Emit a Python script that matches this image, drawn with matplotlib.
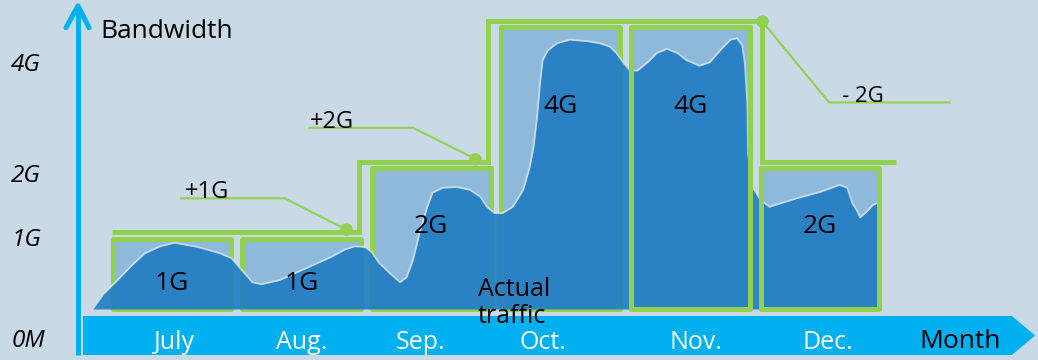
import numpy as np
import matplotlib.pyplot as plt
from matplotlib.patches import Rectangle, Polygon

plt.rcParams['font.family'] = ['Open Sans', 'DejaVu Sans']

# allocated bandwidth per month (G)
months = ['July', 'Aug.', 'Sep.', 'Oct.', 'Nov.', 'Dec.']
bandwidth = [1, 1, 2, 4, 4, 2]

# actual traffic curve: month position vs. G
traffic_x = [-0.61, -0.52, -0.42, -0.31, -0.21, -0.09, 0.02, 0.20, 0.37, 0.46,
             0.54, 0.62, 0.69, 0.83, 1.00, 1.23, 1.33, 1.41, 1.49, 1.54,
             1.60, 1.68, 1.76, 1.81, 1.86, 1.91, 1.97, 2.01, 2.09, 2.20,
             2.30, 2.38, 2.43, 2.49, 2.55, 2.63, 2.71, 2.76, 2.79, 2.82,
             2.84, 2.86, 2.90, 2.97, 3.07, 3.20, 3.30, 3.38, 3.43, 3.48,
             3.53, 3.59, 3.67, 3.74, 3.82, 3.90, 3.97, 4.07, 4.15, 4.23,
             4.31, 4.36, 4.40, 4.42, 4.44, 4.445, 4.48, 4.54, 4.61, 4.82,
             5.00, 5.15, 5.21, 5.25, 5.29, 5.31, 5.36, 5.41, 5.44, 5.46,
             5.47]
traffic_y = [0.0, 0.23, 0.41, 0.62, 0.79, 0.89, 0.94, 0.88, 0.79, 0.72,
             0.55, 0.38, 0.35, 0.41, 0.55, 0.74, 0.84, 0.89, 0.88, 0.81,
             0.65, 0.51, 0.38, 0.45, 0.70, 1.08, 1.45, 1.65, 1.72, 1.73,
             1.69, 1.59, 1.45, 1.36, 1.36, 1.45, 1.69, 2.01, 2.30, 2.78,
             3.21, 3.53, 3.67, 3.77, 3.82, 3.80, 3.77, 3.72, 3.63, 3.50,
             3.39, 3.38, 3.50, 3.63, 3.69, 3.63, 3.53, 3.45, 3.50, 3.67,
             3.82, 3.84, 3.74, 3.49, 2.92, 2.21, 1.73, 1.55, 1.45, 1.57,
             1.66, 1.76, 1.72, 1.50, 1.38, 1.30, 1.38, 1.48, 1.50, 1.48,
             0.0]

ytick_labels = ['0M', '1G', '2G', '4G']
ytick_base = [-0.54, 0.90, 1.80, 3.37]
month_label_x = [0.02, 1.0, 1.92, 2.86, 4.04, 5.06]
box_label_base = [0.27, 0.27, 1.08, 2.78, 2.78, 1.08]

BG = '#C9D9E5'
BOX = '#8FB9DB'
TRAFFIC = '#1F7CC3'
GREEN = '#92D050'
CYAN = '#00B0F0'

fig = plt.figure(figsize=(10.38, 3.6), dpi=100, facecolor=BG)
ax = fig.add_axes([0, 0, 1, 1])
ax.set_facecolor(BG)
ax.set_xlim(-172 / 129.6, 866 / 129.6)
ax.set_ylim(-51 / 70.5, 309 / 70.5)
ax.axis('off')

x = np.arange(len(months))
half = 0.458

# monthly allocation boxes
for i, bw in enumerate(bandwidth):
    ax.add_patch(Rectangle((x[i] - half, 0), 2 * half, bw, facecolor=BOX,
                           edgecolor='none', zorder=1))
    ax.add_patch(Rectangle((x[i] - half, 0), 2 * half, bw, fill=False,
                           edgecolor=GREEN, lw=3.6, joinstyle='round',
                           zorder=2 if i < 4 else 4))
    ax.text(x[i], box_label_base[i], f'{bw}G', ha='center', va='baseline',
            fontsize=19, color='black', zorder=6)

# actual traffic
ax.fill_between(traffic_x, traffic_y, 0, color=TRAFFIC, alpha=0.9, lw=0, zorder=3)
ax.plot(traffic_x[1:-1], traffic_y[1:-1], color='#D8E6F2', lw=1.3, alpha=0.8,
        solid_joinstyle='round', zorder=3.5)

# provisioned bandwidth step line
levels = np.array(bandwidth) + 0.09
diff = np.diff(bandwidth)
edges = np.concatenate([[x[0] - 0.46], x[:-1] + np.where(diff < 0, 0.55, 0.44),
                        [x[-1] + 0.59]])
ax.stairs(levels, edges, baseline=None, color=GREEN, lw=3.6, zorder=4)

# callouts for each change in bandwidth
for i, dx, dy, tail, tdx in [(1, -0.47, 0.44, -0.80, 0.03), (2, -0.48, 0.44, -0.80, 0.0)]:
    dot = (edges[i + 1] - 0.1, levels[i] + 0.04)
    knee = (dot[0] + dx, dot[1] + dy)
    ax.plot([knee[0] + tail, knee[0], dot[0]], [knee[1], knee[1], dot[1]],
            color=GREEN, lw=1.5, zorder=4)
    ax.plot(*dot, 'o', color=GREEN, ms=8, zorder=4)
    ax.text(knee[0] + tail + tdx, knee[1], f'+{diff[i]}G', ha='left', va='baseline',
            fontsize=17, zorder=6)

dot = (edges[5], levels[3])
knee = (dot[0] + 0.52, dot[1] - 1.16)
ax.plot([dot[0], knee[0], knee[0] + 0.93], [dot[1], knee[1], knee[1]],
        color=GREEN, lw=1.5, zorder=4)
ax.plot(*dot, 'o', color=GREEN, ms=8, zorder=4)
ax.text(knee[0] + 0.1, knee[1], f'- {-diff[4]}G', ha='left',
        va='baseline', fontsize=16, zorder=6)

ax.text(2.36, 0.18, 'Actual', ha='left', va='baseline', fontsize=18, zorder=6)
ax.text(2.36, -0.20, 'traffic', ha='left', va='baseline', fontsize=18, zorder=7)

# month axis band
band = Polygon([(-0.687, -0.099), (6.48, -0.099), (6.66, -0.376),
                (6.48, -0.652), (-0.687, -0.652)], closed=True,
               facecolor=CYAN, edgecolor='none', zorder=5)
ax.add_patch(band)
for lx, name in zip(month_label_x, months):
    ax.text(lx, -0.57, name, ha='center', va='baseline', fontsize=18,
            color='white', zorder=6)
ax.text(6.08, -0.555, 'Month', ha='center', va='baseline', fontsize=19,
        color='black', zorder=6)

# bandwidth axis arrow
ax.plot([-0.725, -0.725], [-0.652, 4.27], color=CYAN, lw=3.6,
        solid_capstyle='butt', zorder=5)
ax.plot([-0.818, -0.725, -0.64], [3.99, 4.30, 3.99], color=CYAN, lw=3.6,
        solid_capstyle='round', solid_joinstyle='round', zorder=5)
ax.text(-0.556, 3.85, 'Bandwidth', ha='left', va='baseline', fontsize=19, zorder=6)

for lab, yb in zip(ytick_labels, ytick_base):
    ax.text(-1.24, yb, lab, ha='left', va='baseline', fontsize=17.5,
            style='italic', zorder=6)

fig.savefig('out.png', dpi=100, facecolor=BG)
